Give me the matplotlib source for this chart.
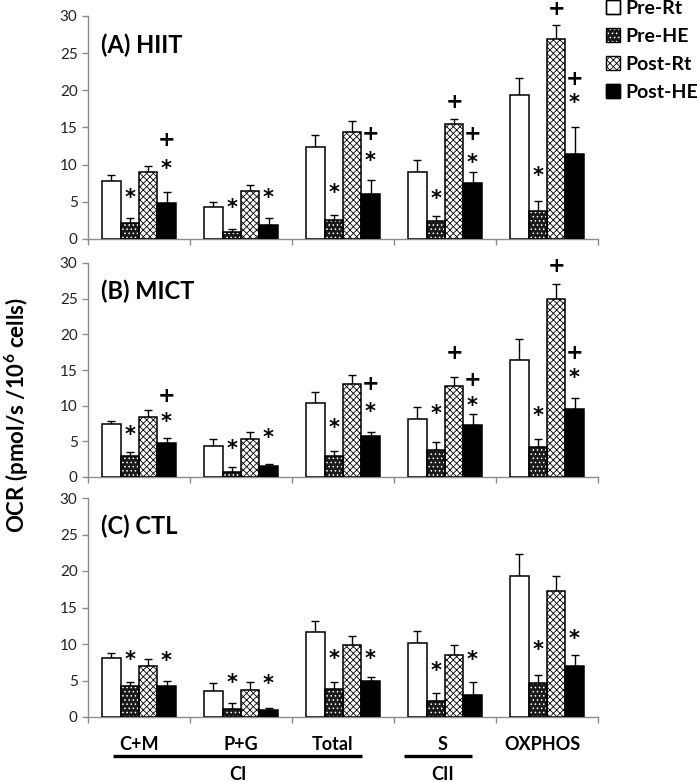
import matplotlib
matplotlib.use("Agg")
import matplotlib.pyplot as plt
from matplotlib.patches import Patch
from matplotlib.transforms import blended_transform_factory, offset_copy
import numpy as np

plt.rcParams['font.family'] = ['Lato', 'DejaVu Sans']
plt.rcParams['hatch.linewidth'] = 0.6
plt.rcParams['mathtext.fontset'] = 'custom'
plt.rcParams['mathtext.bf'] = 'Lato:bold'
plt.rcParams['mathtext.rm'] = 'Lato'

categories = ["C+M", "P+G", "Total", "S", "OXPHOS"]
series = ["Pre-Rt", "Pre-HE", "Post-Rt", "Post-HE"]
panel_titles = ["(A) HIIT", "(B) MICT", "(C) CTL"]

# mean values and upper error (SE) per panel, order: Pre-Rt, Pre-HE, Post-Rt, Post-HE
hiit_means = [[7.74, 4.34, 12.44, 9.0, 19.41],
              [2.17, 0.95, 2.53, 2.4, 3.8],
              [8.96, 6.43, 14.34, 15.52, 26.97],
              [4.89, 1.86, 6.06, 7.56, 11.49]]
hiit_err = [[0.86, 0.68, 1.54, 1.68, 2.26],
            [0.59, 0.36, 0.68, 0.68, 1.31],
            [0.81, 0.9, 1.54, 0.68, 1.83],
            [1.49, 0.99, 1.81, 1.44, 3.53]]

mict_means = [[7.36, 4.36, 10.4, 8.16, 16.45],
              [2.9, 0.7, 2.95, 3.75, 4.22],
              [8.44, 5.34, 13.08, 12.75, 24.94],
              [4.78, 1.55, 5.72, 7.22, 9.47]]
mict_err = [[0.56, 0.94, 1.55, 1.64, 2.91],
            [0.66, 0.7, 0.75, 1.17, 1.08],
            [0.89, 0.99, 1.22, 1.25, 2.11],
            [0.66, 0.33, 0.61, 1.68, 1.59]]

ctl_means = [[8.04, 3.58, 11.58, 10.2, 19.38],
             [4.18, 1.1, 3.9, 2.16, 4.64],
             [6.98, 3.72, 9.88, 8.5, 17.32],
             [4.18, 0.96, 4.87, 3.08, 6.94]]
ctl_err = [[0.69, 1.02, 1.56, 1.56, 2.94],
           [0.64, 0.78, 0.83, 1.19, 1.1],
           [0.92, 1.01, 1.28, 1.33, 2.06],
           [0.72, 0.23, 0.55, 1.74, 1.56]]

# significance marks: (series index, symbol, y per category or None)
hiit_marks = [(1, "*", [6.2, 4.9, 6.9, 6.1, 9.2]),
              (3, "*", [10.1, 6.3, 11.2, 11.0, 19.0]),
              (3, "+", [13.5, None, 14.25, 14.2, 21.7]),
              (2, "+", [None, None, None, 18.5, 31.0])]
mict_marks = [(1, "*", [6.66, 4.7, 7.64, 9.66, 9.3]),
              (3, "*", [8.44, 6.2, 9.94, 10.7, 14.6]),
              (3, "+", [11.5, None, 13.1, 13.7, 17.5]),
              (2, "+", [None, None, None, 17.5, 29.7])]
ctl_marks = [(1, "*", [8.5, 5.4, 8.7, 7.0, 9.9]),
             (3, "*", [8.4, 5.2, 8.7, 8.6, 11.5])]

# bar styles: (facecolor, hatch colour, hatch)
styles = [("white", None, None),
          ("#1a1a1a", "white", "...."),
          ("white", "black", "xxxxx"),
          ("black", None, None)]

fig = plt.figure(figsize=(6.97, 7.82), dpi=100)
left, right = 88 / 697, 598 / 697
panel_px = [(16, 239), (263, 477), (498, 717)]
axes = []
for top, bot in panel_px:
    ax = fig.add_axes([left, 1 - bot / 782, right - left, (bot - top) / 782])
    axes.append(ax)

bw = 0.18
x = np.arange(len(categories)) + 0.5
spine_c = "#8c8c8c"
mark_fs = 15
# vertical offset (points) so the glyph centre sits on the given value
mark_shift = {"*": -0.55 * mark_fs, "+": -0.33 * mark_fs}

panels = [(hiit_means, hiit_err, hiit_marks),
          (mict_means, mict_err, mict_marks),
          (ctl_means, ctl_err, ctl_marks)]

for ax, (means, errs, marks), title in zip(axes, panels, panel_titles):
    for i, (fc, hc, hatch) in enumerate(styles):
        xs = x + (i - 1.5) * bw
        if hatch:
            ax.bar(xs, means[i], bw, color=fc, edgecolor=hc, hatch=hatch, linewidth=0, zorder=2)
            ax.bar(xs, means[i], bw, fill=False, edgecolor="black", linewidth=1.1, zorder=3)
        else:
            ax.bar(xs, means[i], bw, color=fc, edgecolor="black", linewidth=1.1, zorder=3)
        ax.errorbar(xs, means[i], yerr=[np.zeros(len(xs)), errs[i]], fmt="none",
                    ecolor="black", elinewidth=1.0, capsize=3, capthick=1.0, zorder=1)
    for si, sym, ys in marks:
        trans = offset_copy(ax.transData, fig=fig, y=mark_shift[sym], units="points")
        for ci, yv in enumerate(ys):
            if yv is None:
                continue
            ax.text(x[ci] + (si - 1.5) * bw, yv, sym, ha="center", va="baseline",
                    transform=trans, fontsize=mark_fs, fontweight="bold",
                    family="DejaVu Sans", clip_on=False)
    ax.set_xlim(0, 5)
    ax.set_ylim(0, 30)
    ax.set_yticks(range(0, 31, 5))
    ax.set_xticks(range(0, 6))
    ax.set_xticklabels([])
    for s in ["top", "right"]:
        ax.spines[s].set_visible(False)
    for s in ["left", "bottom"]:
        ax.spines[s].set_color(spine_c)
        ax.spines[s].set_linewidth(1.0)
    ax.tick_params(axis="both", colors=spine_c, length=4, width=1.0, labelcolor="#222222",
                   labelsize=11)
    ax.text(0.025, 0.87, title, transform=ax.transAxes, fontsize=17, fontweight="bold",
            ha="left", va="center")

fig.text(17 / 697, 1 - 415 / 782, "OCR (pmol/s /10$^{\\mathbf{6}}$ cells)", rotation=90,
         ha="center", va="center", fontsize=16, fontweight="bold")

# category labels under bottom panel
axc = axes[-1]
tr = blended_transform_factory(axc.transData, fig.transFigure)
label_x = [0.5, 1.5, 2.4, 3.48, 4.46]
for lx, lab in zip(label_x, categories):
    axc.text(lx, 1 - 744 / 782, lab, transform=tr, ha="center", va="center",
             fontsize=13, fontweight="bold")
axc.plot([0.245, 2.69], [1 - 756 / 782] * 2, transform=tr, color="black", lw=2.4,
         clip_on=False, solid_capstyle="butt")
axc.plot([3.1, 3.76], [1 - 756 / 782] * 2, transform=tr, color="black", lw=2.4,
         clip_on=False, solid_capstyle="butt")
axc.text(1.47, 1 - 774 / 782, "CI", transform=tr, ha="center", va="center",
         fontsize=13, fontweight="bold")
axc.text(3.48, 1 - 774 / 782, "CII", transform=tr, ha="center", va="center",
         fontsize=13, fontweight="bold")

handles = []
for fc, hc, hatch in styles:
    outline = Patch(facecolor="none", edgecolor="black", linewidth=1.0)
    if hatch:
        handles.append((Patch(facecolor=fc, edgecolor=hc, hatch=hatch, linewidth=0), outline))
    else:
        handles.append((Patch(facecolor=fc, edgecolor="black", linewidth=1.0), outline))
fig.legend(handles, series, loc="upper left", bbox_to_anchor=(606 / 697, 1.0),
           frameon=False, prop={"weight": "bold", "size": 14}, handlelength=0.7,
           handleheight=0.7, handletextpad=0.3, labelspacing=0.56, borderpad=0.0,
           borderaxespad=0)

fig.savefig("out.png", dpi=100)
